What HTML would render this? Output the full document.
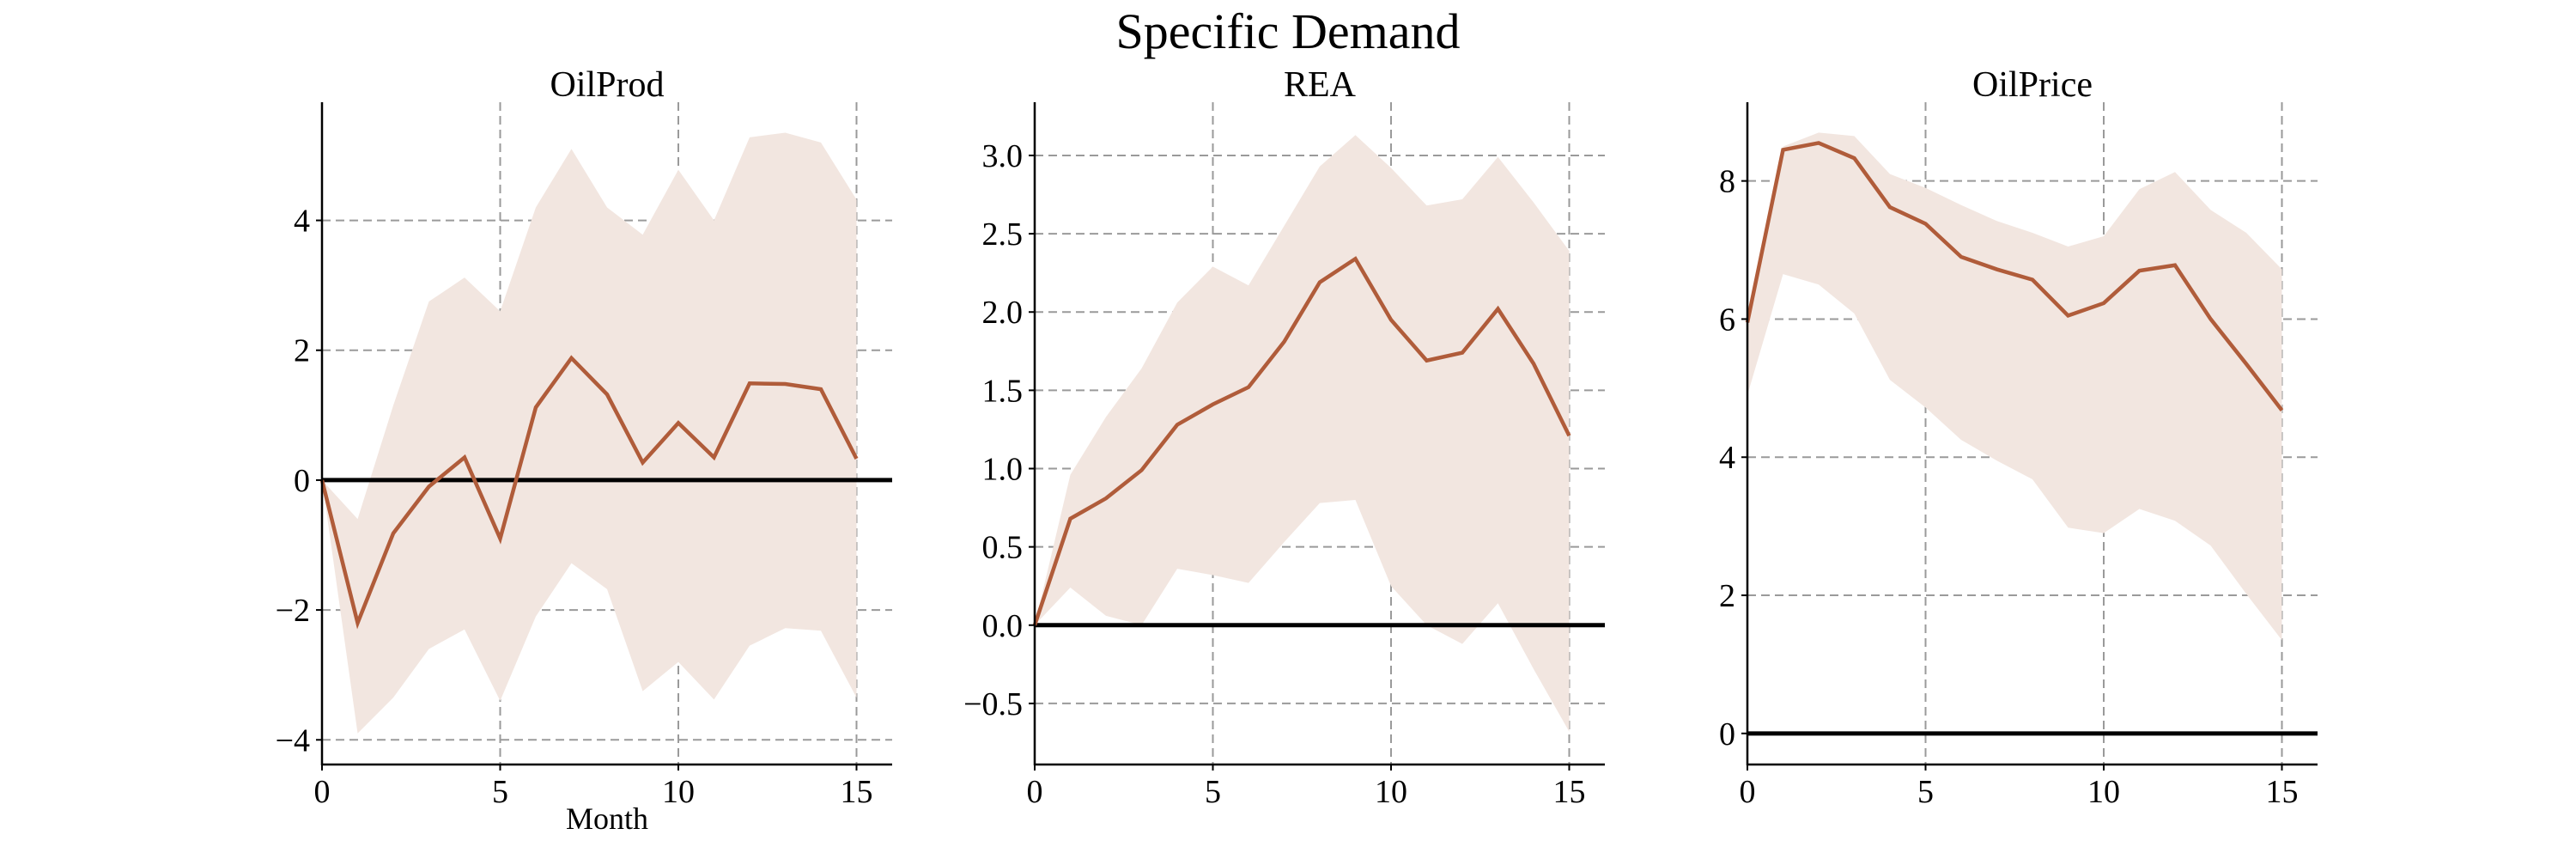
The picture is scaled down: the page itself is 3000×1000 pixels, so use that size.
<!DOCTYPE html>
<html><head><meta charset="utf-8">
<style>
html,body{margin:0;padding:0;background:#fff;}
svg{display:block;font-family:"Liberation Serif","DejaVu Serif",serif;}
</style></head>
<body>
<svg id="fig" width="3000" height="1000" viewBox="0 0 3000 1000" xmlns="http://www.w3.org/2000/svg">
<rect width="3000" height="1000" fill="#fff"/>
<text x="1500" y="56" font-size="58" text-anchor="middle">Specific Demand</text>
</svg>
<script>
const months = [0,1,2,3,4,5,6,7,8,9,10,11,12,13,14,15];
const oilProdMean = [0,-2.2,-0.82,-0.1,0.35,-0.9,1.12,1.88,1.32,0.27,0.88,0.35,1.49,1.48,1.4,0.33];
const oilProdUpper = [0,-0.6,1.15,2.75,3.12,2.6,4.2,5.1,4.2,3.78,4.78,4.0,5.28,5.35,5.2,4.32];
const oilProdLower = [0,-3.9,-3.35,-2.6,-2.3,-3.4,-2.1,-1.28,-1.68,-3.25,-2.8,-3.38,-2.55,-2.28,-2.32,-3.35];
const reaMean = [0,0.68,0.81,0.99,1.28,1.41,1.52,1.81,2.19,2.34,1.95,1.69,1.74,2.02,1.67,1.21];
const reaUpper = [0,0.96,1.33,1.64,2.06,2.29,2.17,2.55,2.93,3.13,2.92,2.68,2.72,2.99,2.7,2.39];
const reaLower = [0,0.24,0.06,0.0,0.36,0.32,0.27,0.53,0.78,0.8,0.25,0.0,-0.12,0.14,-0.28,-0.68];
const oilPriceMean = [5.95,8.45,8.55,8.33,7.62,7.38,6.9,6.72,6.57,6.05,6.23,6.7,6.78,6.0,5.35,4.68];
const oilPriceUpper = [5.95,8.5,8.7,8.65,8.1,7.9,7.65,7.42,7.25,7.05,7.2,7.88,8.13,7.58,7.25,6.72];
const oilPriceLower = [4.9,6.65,6.5,6.08,5.12,4.72,4.25,3.95,3.68,2.98,2.9,3.25,3.08,2.72,2.02,1.35];
const xTicks = [0,5,10,15];
const oilProdTicks = [-4,-2,0,2,4];
const reaTicks = [-0.5,0,0.5,1.0,1.5,2.0,2.5,3.0];
const oilPriceTicks = [0,2,4,6,8];

const NS = "http://www.w3.org/2000/svg";
const svg = document.getElementById('fig');
function mk(tag, attrs, parent){
  const e = document.createElementNS(NS, tag);
  for (const k in attrs) e.setAttribute(k, attrs[k]);
  (parent||svg).appendChild(e);
  return e;
}
function fmt(v, dec){ const s = Math.abs(v).toFixed(dec); return (v<0?'\u2212':'')+s; }

function panel(cfg){
  const L=cfg.left, R=cfg.left+664, T=119, B=890;
  const g = mk('g',{});
  
  
  const xs = v => L + (v-0)/(16-0)*(R-L);
  const ys = v => B - (v-cfg.ymin)/(cfg.ymax-cfg.ymin)*(B-T);
  cfg.yticks.forEach(t=>{
    if (t!==0){
      const l = mk('line',{x1:L,x2:R,y1:ys(t),y2:ys(t),stroke:'#9a9a9a','stroke-width':2,'stroke-dasharray':'10,6'},g);
      
      
    }
  });
  xTicks.forEach(t=>{
    if (t!==0){
      const l = mk('line',{x1:xs(t),x2:xs(t),y1:T,y2:B,stroke:'#9a9a9a','stroke-width':2,'stroke-dasharray':'10,6'},g);
      
      
    }
  });
  let d = '';
  months.forEach((m,i)=>{ d += (i?'L':'M')+xs(m)+','+ys(cfg.upper[i]); });
  for (let i=months.length-1;i>=0;i--) d += 'L'+xs(months[i])+','+ys(cfg.lower[i]);
  const band = mk('path',{d:d+'Z',fill:'#f2e6e0',stroke:'none'},g);
  
  
  const z = mk('line',{x1:L,x2:R,y1:ys(0),y2:ys(0),stroke:'#000','stroke-width':5},g);
  
  
  const pts = months.map((m,i)=>xs(m)+','+ys(cfg.mean[i])).join(' ');
  const pl = mk('polyline',{points:pts,fill:'none',stroke:'#b05c3a','stroke-width':4.5,'stroke-linejoin':'miter'},g);
  
  
  const ya = mk('line',{x1:L,x2:L,y1:T,y2:B+1,stroke:'#000','stroke-width':2.5},g);
  
  
  const xa = mk('line',{x1:L-1,x2:R,y1:B,y2:B,stroke:'#000','stroke-width':2.5},g);
  
  
  cfg.yticks.forEach(t=>{
    mk('line',{x1:L-7,x2:L,y1:ys(t),y2:ys(t),stroke:'#000','stroke-width':2},g);
    const tx = mk('text',{x:L-14,y:ys(t)+13,'font-size':38,'text-anchor':'end'},g);
    tx.textContent = fmt(t, cfg.dec);
    
    
  });
  xTicks.forEach(t=>{
    mk('line',{x1:xs(t),x2:xs(t),y1:B,y2:B+7,stroke:'#000','stroke-width':2},g);
    const tx = mk('text',{x:xs(t),y:B+44,'font-size':38,'text-anchor':'middle'},g);
    tx.textContent = String(t);
    
    
  });
  const ti = mk('text',{x:(L+R)/2,y:112,'font-size':42,'text-anchor':'middle'},g);
  ti.textContent = cfg.title;
  
  
  if (cfg.xlabel){
    const xl = mk('text',{x:(L+R)/2,y:965,'font-size':36,'text-anchor':'middle'},g);
    xl.textContent = cfg.xlabel;
    
    
  }
}
panel({name:'oilprod',title:'OilProd',left:375,ymin:-4.38,ymax:5.82,yticks:oilProdTicks,dec:0,mean:oilProdMean,upper:oilProdUpper,lower:oilProdLower,xlabel:'Month'});
panel({name:'rea',title:'REA',left:1205,ymin:-0.89,ymax:3.34,yticks:reaTicks,dec:1,mean:reaMean,upper:reaUpper,lower:reaLower});
panel({name:'oilprice',title:'OilPrice',left:2035,ymin:-0.45,ymax:9.14,yticks:oilPriceTicks,dec:0,mean:oilPriceMean,upper:oilPriceUpper,lower:oilPriceLower});
</script>
</body></html>
